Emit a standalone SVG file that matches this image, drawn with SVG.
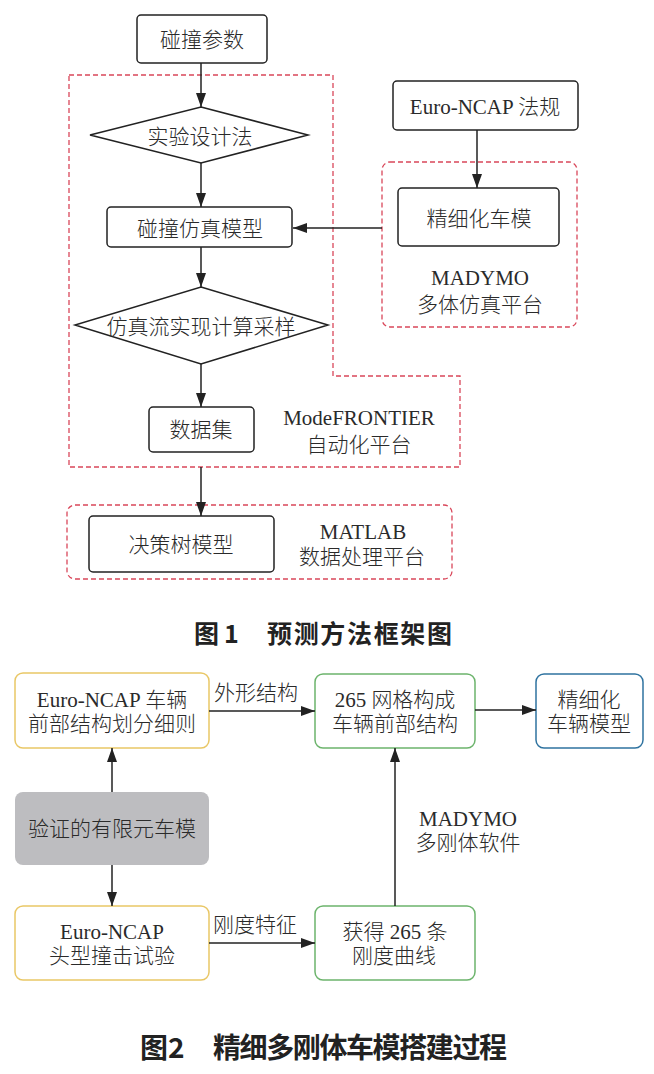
<svg xmlns="http://www.w3.org/2000/svg" width="654" height="1074" viewBox="0 0 654 1074">
<style>
  .t { font-family: "Liberation Serif", "Noto Sans CJK SC", serif; font-size: 21px; font-weight: 300; fill: #2a2a2a; text-anchor: middle; }
  .cap { font-family: "Noto Sans CJK SC", "Liberation Sans", sans-serif; font-weight: bold; fill: #222; }
  .box { fill: #fff; stroke: #222; stroke-width: 1.5; }
  .dash { fill: none; stroke: #d9475a; stroke-width: 1.3; stroke-dasharray: 5 3; }
  .arr { fill: none; stroke: #222; stroke-width: 1.5; marker-end: url(#ah); }
  .yel { fill: #fff; stroke: #e9c766; stroke-width: 1.5; }
  .grn { fill: #fff; stroke: #6cb46c; stroke-width: 1.5; }
  .blu { fill: #fff; stroke: #2f73a0; stroke-width: 1.5; }
</style>
<defs>
  <marker id="ah" markerUnits="userSpaceOnUse" viewBox="0 0 14 10" markerWidth="14" markerHeight="10" refX="14" refY="5" orient="auto">
    <path d="M0,0 L14,5 L0,10 z" fill="#222"/>
  </marker>
</defs>
<rect width="654" height="1074" fill="#fff"/>

<!-- Figure 1 containers -->
<g id="modefrontier-platform">
  <path class="dash" d="M69,75 H333 V376 H460 V467 H69 Z"/>
  <text class="t" x="359" y="425">ModeFRONTIER</text>
  <text class="t" x="359" y="452">自动化平台</text>
</g>
<g id="madymo-platform">
  <rect class="dash" x="382" y="162" width="195" height="165" rx="8"/>
  <text class="t" x="480" y="285">MADYMO</text>
  <text class="t" x="480" y="312">多体仿真平台</text>
</g>
<g id="matlab-platform">
  <rect class="dash" x="67" y="505" width="385" height="74" rx="8"/>
  <text class="t" x="363" y="539">MATLAB</text>
  <text class="t" x="362" y="564">数据处理平台</text>
</g>

<!-- Figure 1 nodes -->
<g id="collision-params">
  <rect class="box" x="137" y="15" width="130" height="48" rx="4"/>
  <text class="t" x="202" y="47">碰撞参数</text>
</g>
<g id="doe">
  <polygon class="box" points="201,107 308,135 201,163 90,135"/>
  <text class="t" x="200" y="144">实验设计法</text>
</g>
<g id="crash-model">
  <rect class="box" x="107" y="207" width="185" height="40" rx="4"/>
  <text class="t" x="200" y="236">碰撞仿真模型</text>
</g>
<g id="sampling">
  <polygon class="box" points="201,287 328,325 201,364 75,325"/>
  <text class="t" x="201" y="334">仿真流实现计算采样</text>
</g>
<g id="dataset">
  <rect class="box" x="149" y="407" width="105" height="45" rx="4"/>
  <text class="t" x="201" y="437">数据集</text>
</g>
<g id="decision-tree">
  <rect class="box" x="89" y="516" width="185" height="56" rx="4"/>
  <text class="t" x="181" y="552">决策树模型</text>
</g>
<g id="euro-ncap-reg">
  <rect class="box" x="393" y="81" width="185" height="49" rx="4"/>
  <text class="t" x="485" y="114">Euro-NCAP 法规</text>
</g>
<g id="refined-model">
  <rect class="box" x="398" y="188" width="161" height="58" rx="4"/>
  <text class="t" x="479" y="226">精细化车模</text>
</g>

<!-- Figure 1 connectors -->
<g id="connectors-fig1">
  <line class="arr" x1="201" y1="63" x2="201" y2="107"/>
  <line class="arr" x1="201" y1="163" x2="201" y2="207"/>
  <line class="arr" x1="201" y1="247" x2="201" y2="287"/>
  <line class="arr" x1="201" y1="364" x2="201" y2="407"/>
  <line class="arr" x1="201" y1="467" x2="201" y2="516"/>
  <line class="arr" x1="477" y1="130" x2="477" y2="188"/>
  <line class="arr" x1="382" y1="228" x2="293" y2="228"/>
</g>

<g id="caption1">
  <text class="cap" x="194" y="643" font-size="25">图</text>
  <text class="cap" x="224" y="643" font-size="25">1</text>
  <text class="cap" x="267" y="643" font-size="25" textLength="185" lengthAdjust="spacing">预测方法框架图</text>
</g>

<!-- Figure 2 nodes -->
<g id="euro-ncap-division">
  <rect class="yel" x="15" y="673" width="194" height="75" rx="8"/>
  <text class="t" x="112" y="707">Euro-NCAP 车辆</text>
  <text class="t" x="112" y="731">前部结构划分细则</text>
</g>
<g id="grid-265">
  <rect class="grn" x="315" y="674" width="160" height="74" rx="8"/>
  <text class="t" x="395" y="707">265 网格构成</text>
  <text class="t" x="395" y="731">车辆前部结构</text>
</g>
<g id="refined-vehicle">
  <rect class="blu" x="536" y="674" width="107" height="74" rx="8"/>
  <text class="t" x="589" y="707">精细化</text>
  <text class="t" x="589" y="731">车辆模型</text>
</g>
<g id="fe-model">
  <rect x="15" y="792" width="194" height="73" rx="8" fill="#bdbdc0"/>
  <text class="t" x="112" y="836">验证的有限元车模</text>
</g>
<g id="headform-test">
  <rect class="yel" x="15" y="906" width="194" height="74" rx="8"/>
  <text class="t" x="112" y="939">Euro-NCAP</text>
  <text class="t" x="112" y="963">头型撞击试验</text>
</g>
<g id="stiffness-curves">
  <rect class="grn" x="315" y="906" width="160" height="74" rx="8"/>
  <text class="t" x="395" y="939">获得 265 条</text>
  <text class="t" x="394" y="963">刚度曲线</text>
</g>

<!-- Figure 2 connectors -->
<g id="connectors-fig2">
  <line class="arr" x1="209" y1="711" x2="315" y2="711"/>
  <text class="t" x="256" y="700">外形结构</text>
  <line class="arr" x1="475" y1="710" x2="536" y2="710"/>
  <line class="arr" x1="112" y1="792" x2="112" y2="748"/>
  <line class="arr" x1="112" y1="865" x2="112" y2="906"/>
  <line class="arr" x1="209" y1="943" x2="315" y2="943"/>
  <text class="t" x="255" y="932">刚度特征</text>
  <line class="arr" x1="395" y1="906" x2="395" y2="748"/>
  <text class="t" x="468" y="826">MADYMO</text>
  <text class="t" x="468" y="850">多刚体软件</text>
</g>

<g id="caption2">
  <text class="cap" x="140" y="1058" font-size="28">图</text>
  <text class="cap" x="168" y="1058" font-size="28">2</text>
  <text class="cap" x="213" y="1058" font-size="28" textLength="294" lengthAdjust="spacing">精细多刚体车模搭建过程</text>
</g>
</svg>
